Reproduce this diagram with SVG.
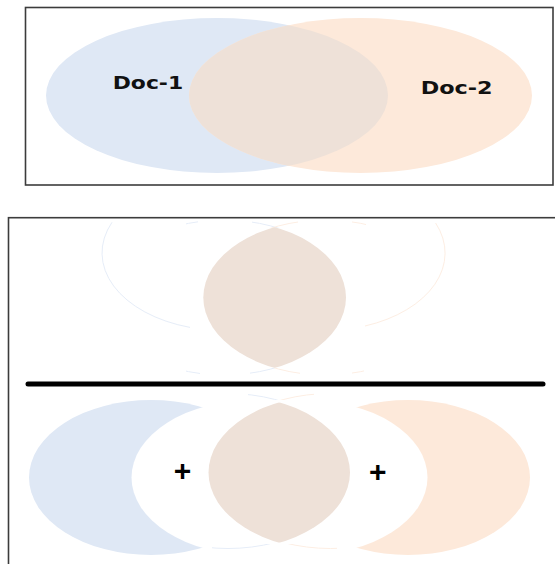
<svg xmlns="http://www.w3.org/2000/svg" width="555" height="564" viewBox="0 0 555 564">
  <style>
    .frame { fill: none; stroke: #3c3c3c; stroke-width: 1.6; }
    .blue { fill: #dfe8f5; }
    .orange { fill: #fde9da; }
    .lens { fill: #eee1d8; }
    .label { font-family: "DejaVu Sans", "Liberation Sans", sans-serif; font-weight: bold; font-size: 17px; fill: #111; }
    .plus { font-family: "Liberation Sans", Arial, sans-serif; font-weight: bold; font-size: 30px; fill: #000; text-anchor: middle; }
    .ghostB { fill: none; stroke: #e6edf8; stroke-width: 1; }
    .ghostO { fill: none; stroke: #fdeee3; stroke-width: 1; }
  </style>
  <defs>
    <clipPath id="clipTopOrange">
      <ellipse cx="360.5" cy="95.5" rx="171.5" ry="77.5"/>
    </clipPath>
    <clipPath id="clipUpperB">
      <ellipse cx="325.3" cy="297.5" rx="122" ry="77.5"/>
    </clipPath>
    <clipPath id="clipLowerB">
      <ellipse cx="330.5" cy="472.5" rx="122" ry="77.5"/>
    </clipPath>
    <clipPath id="tipsUpper">
      <rect x="186" y="219" width="12" height="9"/>
      <rect x="252" y="219" width="46" height="9"/>
      <rect x="352" y="219" width="14" height="9"/>
      <rect x="186" y="368" width="14" height="8"/>
      <rect x="250" y="368" width="50" height="8"/>
      <rect x="352" y="368" width="12" height="8"/>
    </clipPath>
    <clipPath id="tipsLower">
      <rect x="248" y="391" width="66" height="9"/>
      <rect x="212" y="544" width="125" height="8"/>
    </clipPath>
    <mask id="maskLeftCrescent">
      <rect x="0" y="380" width="555" height="184" fill="#fff"/>
      <ellipse cx="253.5" cy="477.5" rx="122" ry="77.5" fill="#000"/>
    </mask>
    <mask id="maskRightCrescent">
      <rect x="0" y="380" width="555" height="184" fill="#fff"/>
      <ellipse cx="305.5" cy="477.5" rx="122" ry="77.5" fill="#000"/>
    </mask>
  </defs>

  <rect width="555" height="564" fill="#fff"/>

  <!-- Top panel: Venn of Doc-1 and Doc-2 -->
  <g id="top-panel">
    <rect class="frame" x="25.5" y="7.5" width="527.5" height="177.5"/>
    <g id="doc1">
      <ellipse class="blue" cx="217" cy="95.5" rx="171" ry="77.5"/>
    </g>
    <g id="doc2">
      <ellipse class="orange" cx="360.5" cy="95.5" rx="171.5" ry="77.5"/>
    </g>
    <g id="top-overlap">
      <ellipse class="lens" cx="217" cy="95.5" rx="171" ry="77.5" clip-path="url(#clipTopOrange)"/>
    </g>
    <text class="label" x="112.7" y="89.3" textLength="70.5" lengthAdjust="spacingAndGlyphs">Doc-1</text>
    <text class="label" x="420.7" y="94.3" textLength="72" lengthAdjust="spacingAndGlyphs">Doc-2</text>
  </g>

  <!-- Bottom panel -->
  <g id="bottom-panel">
    <rect class="frame" x="8.5" y="217.7" width="570" height="370"/>

    <g id="upper-ghosts">
      <path class="ghostB" d="M 112 222.3 A 122 77.5 0 0 0 190 327.4"/>
      <path class="ghostO" d="M 435.6 223 A 121 77.5 0 0 1 365 326"/>
      <g clip-path="url(#tipsUpper)">
        <ellipse class="ghostB" cx="224" cy="297.5" rx="122" ry="77.5"/>
        <ellipse class="ghostO" cx="325.3" cy="297.5" rx="122" ry="77.5"/>
      </g>
    </g>

    <g id="upper-lens">
      <ellipse class="lens" cx="224" cy="297.5" rx="122" ry="77.5" clip-path="url(#clipUpperB)"/>
    </g>

    <g id="divider">
      <line x1="28" y1="384" x2="543" y2="384" stroke="#000" stroke-width="5" stroke-linecap="round"/>
    </g>

    <g id="left-crescent">
      <ellipse class="blue" cx="151" cy="477.5" rx="122" ry="77.5" mask="url(#maskLeftCrescent)"/>
    </g>
    <g id="right-crescent">
      <ellipse class="orange" cx="408" cy="477.5" rx="122" ry="77.5" mask="url(#maskRightCrescent)"/>
    </g>

    <g id="lower-ghosts" clip-path="url(#tipsLower)">
      <ellipse class="ghostB" cx="228" cy="471" rx="122" ry="77.5"/>
      <ellipse class="ghostO" cx="330.5" cy="471" rx="122" ry="77.5"/>
    </g>

    <g id="lower-lens">
      <ellipse class="lens" cx="228" cy="472.5" rx="122" ry="77.5" clip-path="url(#clipLowerB)"/>
    </g>

    <text class="plus" x="182.6" y="480.5">+</text>
    <text class="plus" x="377.7" y="481.5">+</text>
  </g>
</svg>
